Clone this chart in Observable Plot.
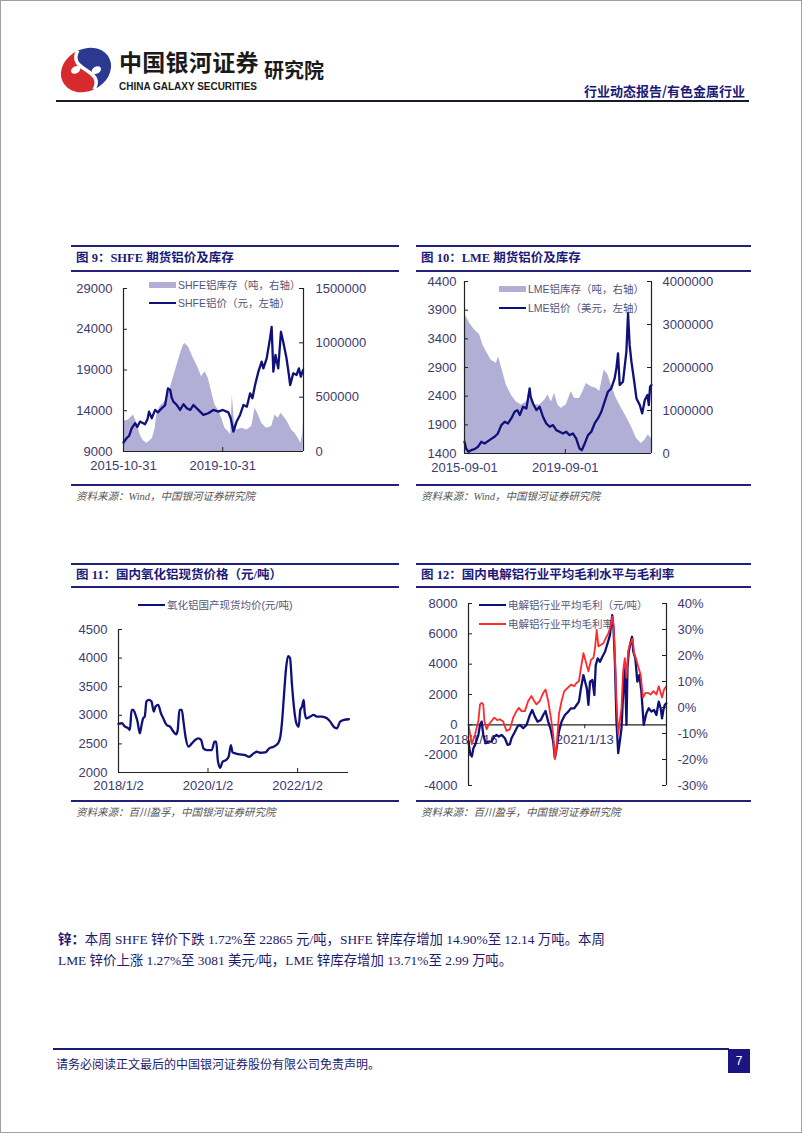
<!DOCTYPE html>
<html><head><meta charset="utf-8">
<script src="https://cdn.jsdelivr.net/npm/d3@7"></script>
<script src="https://cdn.jsdelivr.net/npm/@observablehq/plot@0.6"></script>
<style>
body{margin:0;background:#fff;}
#page{position:relative;width:802px;height:1133px;box-sizing:border-box;border:1px solid #a0a0a0;overflow:hidden;font-family:"Noto Sans CJK SC",sans-serif;background:#fff;}
.abs{position:absolute;white-space:nowrap;}
.rule{position:absolute;background:#23207a;}
.title{position:absolute;font-family:"Liberation Serif","Noto Sans CJK SC",serif;font-weight:bold;font-size:12.5px;color:#1c1a78;line-height:16px;white-space:nowrap;}
.src{position:absolute;font-family:"Liberation Serif","Noto Sans CJK SC",serif;font-style:italic;font-size:10.5px;color:#555;line-height:14px;white-space:nowrap;}
.leg{position:absolute;font-family:"Liberation Sans","Noto Sans CJK SC",sans-serif;font-size:10.5px;color:#55557a;line-height:16px;white-space:nowrap;}
.chart{position:absolute;}
.para{position:absolute;font-family:"Liberation Serif","Noto Sans CJK SC",serif;font-size:13.4px;color:#1c1a6e;line-height:18px;white-space:nowrap;}
</style></head>
<body><div id="page"></div>
<script>
// ---------- DATA ----------
const shfePrice = [["2015-10-31",10100],["2015-12-15",10630],["2016-01-20",10900],["2016-03-01",11860],["2016-04-20",12470],["2016-05-20",12000],["2016-07-01",12670],["2016-09-12",12350],["2016-10-20",13000],["2016-11-10",13900],["2016-12-20",13080],["2017-02-08",14100],["2017-03-20",13800],["2017-05-15",14300],["2017-07-05",14700],["2017-08-15",16750],["2017-09-18",16550],["2017-10-10",15600],["2017-11-03",15120],["2017-12-24",14700],["2018-02-10",14100],["2018-04-01",14800],["2018-05-20",14300],["2018-07-10",14100],["2018-08-25",14700],["2018-11-06",14100],["2019-01-20",13490],["2019-04-01",13690],["2019-06-15",14100],["2019-08-28",13900],["2019-10-31",14100],["2020-01-22",13800],["2020-02-25",13080],["2020-04-05",11450],["2020-05-22",12670],["2020-07-12",13490],["2020-08-30",14700],["2020-10-20",14500],["2020-12-07",16140],["2021-01-10",15530],["2021-02-18",17160],["2021-04-08",18800],["2021-05-26",20020],["2021-06-20",19200],["2021-08-08",20430],["2021-09-26",22880],["2021-10-20",24300],["2021-11-14",18800],["2021-12-16",20840],["2022-01-25",19200],["2022-03-06",23690],["2022-04-08",22470],["2022-05-27",20430],["2022-07-01",18390],["2022-07-20",17160],["2022-09-03",18590],["2022-10-22",18390],["2022-11-25",19200],["2022-12-24",18180],["2023-01-25",19000]];
const shfeStock = [["2015-10-31",275000],["2016-01-12",290000],["2016-03-25",337000],["2016-05-15",260000],["2016-07-01",153000],["2016-08-20",98000],["2016-10-08",77000],["2016-11-25",98000],["2016-12-31",122000],["2017-02-08",214000],["2017-03-03",337000],["2017-04-22",413000],["2017-07-05",459000],["2017-09-18",582000],["2017-11-28",735000],["2018-02-10",888000],["2018-04-01",980000],["2018-04-22",995000],["2018-06-12",964000],["2018-08-25",857000],["2018-11-06",765000],["2018-12-24",689000],["2019-02-13",735000],["2019-04-01",673000],["2019-05-20",551000],["2019-07-08",429000],["2019-08-28",383000],["2019-10-15",306000],["2019-12-03",214000],["2020-01-22",184000],["2020-02-25",153000],["2020-03-20",520000],["2020-04-20",275000],["2020-05-22",199000],["2020-08-07",214000],["2020-10-20",199000],["2021-01-01",230000],["2021-02-18",398000],["2021-04-08",337000],["2021-05-26",260000],["2021-08-08",214000],["2021-10-20",230000],["2021-12-08",337000],["2022-01-25",306000],["2022-03-06",352000],["2022-05-05",306000],["2022-06-21",260000],["2022-08-10",199000],["2022-09-27",168000],["2022-11-15",122000],["2022-12-24",77000],["2023-01-18",153000],["2023-01-28",275000]];
const lmePrice = [["2015-09-01",1604],["2015-09-24",1487],["2015-10-30",1429],["2015-12-06",1458],["2016-01-26",1476],["2016-03-14",1517],["2016-05-01",1604],["2016-06-18",1575],["2016-08-28",1633],["2016-11-10",1691],["2016-12-28",1750],["2017-02-16",1895],["2017-04-05",1953],["2017-05-23",1924],["2017-07-10",2012],["2017-08-28",2128],["2017-10-05",2157],["2017-11-10",2070],["2017-12-28",2215],["2018-02-14",2186],["2018-03-10",2361],["2018-04-02",2536],["2018-04-16",2390],["2018-05-21",2274],["2018-07-08",2157],["2018-08-25",2215],["2018-10-12",2041],["2018-11-29",1924],["2019-01-17",1866],["2019-03-06",1895],["2019-04-23",1808],["2019-06-10",1779],["2019-07-28",1750],["2019-09-14",1779],["2019-11-01",1720],["2019-12-19",1750],["2020-02-05",1662],["2020-03-24",1487],["2020-04-27",1458],["2020-06-08",1575],["2020-07-26",1720],["2020-09-12",1779],["2020-10-30",1924],["2020-12-17",2012],["2021-02-04",2128],["2021-03-24",2303],["2021-05-11",2478],["2021-06-28",2536],["2021-08-16",2711],["2021-09-10",2885],["2021-10-04",3147],["2021-10-28",2594],["2021-12-15",2652],["2022-02-02",3177],["2022-02-26",3847],["2022-03-21",3294],["2022-04-16",3002],["2022-05-27",2652],["2022-06-28",2361],["2022-08-15",2245],["2022-09-19",2099],["2022-10-27",2332],["2022-12-04",2419],["2022-12-24",2245],["2023-01-11",2565],["2023-02-01",2594]];
const lmeStock = [["2015-09-01",3260000],["2015-11-14",3030000],["2016-01-26",2870000],["2016-04-07",2760000],["2016-05-26",2520000],["2016-07-13",2370000],["2016-09-23",2170000],["2016-12-05",2100000],["2017-01-08",2250000],["2017-02-16",2020000],["2017-04-30",1590000],["2017-07-10",1360000],["2017-09-21",1200000],["2017-12-02",1130000],["2018-02-14",1200000],["2018-04-02",1280000],["2018-06-14",1130000],["2018-08-25",1130000],["2018-11-06",1240000],["2018-12-24",1360000],["2019-02-10",1200000],["2019-03-30",1400000],["2019-05-17",1130000],["2019-07-04",1050000],["2019-09-14",1130000],["2019-11-26",1440000],["2020-01-14",1280000],["2020-03-24",1280000],["2020-05-15",1440000],["2020-07-01",1630000],["2020-09-12",1550000],["2020-11-24",1510000],["2021-01-11",1440000],["2021-03-17",1940000],["2021-05-11",1830000],["2021-06-28",1590000],["2021-09-10",1280000],["2021-11-22",1050000],["2022-02-02",850000],["2022-04-16",620000],["2022-06-28",350000],["2022-09-08",230000],["2022-10-27",310000],["2022-12-14",430000],["2023-02-01",350000]];
const aluminaPrice = [["2018-01-02",2849],["2018-01-29",2861],["2018-02-24",2802],["2018-03-23",2773],["2018-04-05",2744],["2018-04-19",3095],["2018-05-02",3095],["2018-05-21",3007],["2018-06-06",2890],["2018-06-25",2685],["2018-07-09",2831],["2018-07-22",2948],["2018-08-04",2978],["2018-08-18",3241],["2018-09-06",3270],["2018-09-28",3241],["2018-10-17",3066],["2018-10-31",3153],["2018-11-22",3182],["2018-12-14",3036],["2019-01-02",2948],["2019-01-30",2831],["2019-02-26",2802],["2019-03-26",2714],["2019-04-17",2667],["2019-04-30",2744],["2019-05-14",3095],["2019-06-02",3095],["2019-06-16",2890],["2019-07-05",2597],["2019-07-27",2451],["2019-08-23",2509],["2019-09-19",2568],["2019-10-16",2597],["2019-11-07",2568],["2019-11-26",2422],["2019-12-23",2392],["2020-02-02",2392],["2020-02-24",2539],["2020-03-09",2539],["2020-03-22",2217],["2020-04-10",2082],["2020-04-30",2187],["2020-05-27",2217],["2020-06-18",2275],["2020-07-07",2480],["2020-07-20",2351],["2020-08-11",2334],["2020-09-20",2316],["2020-10-31",2304],["2020-12-03",2275],["2021-01-08",2334],["2021-02-04",2363],["2021-03-03",2345],["2021-04-13",2351],["2021-05-16",2422],["2021-06-20",2451],["2021-07-26",2509],["2021-08-14",2626],["2021-08-28",2890],["2021-09-13",3358],["2021-09-30",3827],["2021-10-16",4032],["2021-11-01",4002],["2021-11-17",3534],["2021-12-07",3066],["2021-12-23",2861],["2022-01-11",2802],["2022-01-24",3095],["2022-02-07",3153],["2022-02-21",3270],["2022-02-28",3066],["2022-03-14",2948],["2022-04-15",2978],["2022-05-12",3007],["2022-06-09",2978],["2022-07-19",2978],["2022-08-29",2948],["2022-09-25",2890],["2022-10-22",2802],["2022-11-18",2773],["2022-12-15",2890],["2023-01-15",2919],["2023-02-24",2931]];
const smelterProfit = [["2018-01-16",-1107],["2018-01-31",-1875],["2018-02-16",-2094],["2018-03-03",-1542],["2018-03-19",-1322],["2018-04-03",-993],["2018-04-19",-665],["2018-05-04",0],["2018-05-20",213],["2018-06-04",-665],["2018-06-26",-1213],["2018-07-21",-1103],["2018-08-21",-1103],["2018-09-15",-774],["2018-10-07",-665],["2018-10-28",-774],["2018-11-23",-665],["2018-12-24",-884],["2019-01-18",-1322],["2019-02-09",-1278],["2019-02-24",-884],["2019-03-21",-555],["2019-04-22",-116],["2019-05-14",0],["2019-06-14",-226],["2019-07-16",0],["2019-08-16",651],["2019-09-07",980],["2019-10-02",541],["2019-10-27",213],["2019-11-27",322],["2019-12-19",651],["2020-01-10",914],["2020-02-04",213],["2020-02-29",-336],["2020-03-22",-1103],["2020-04-07",-2200],["2020-04-23",-1542],["2020-05-15",-445],["2020-06-09",213],["2020-07-10",651],["2020-08-11",870],["2020-09-05",1090],["2020-10-06",1090],["2020-10-28",1310],["2020-11-19",1529],["2020-12-08",2406],["2020-12-31",3283],["2021-01-16",2845],["2021-02-01",2406],["2021-02-16",1310],["2021-03-03",2845],["2021-03-25",2955],["2021-04-13",1968],["2021-04-26",3941],["2021-05-14",4380],["2021-06-05",4160],["2021-06-27",4489],["2021-07-22",4818],["2021-08-15",5366],["2021-09-06",5914],["2021-09-28",7231],["2021-10-10",6353],["2021-10-23",4160],["2021-11-07",213],["2021-11-23",-1871],["2021-12-08",-1103],["2021-12-24",-226],["2022-01-08",1968],["2022-01-24",3722],["2022-02-09",0],["2022-02-18",3722],["2022-03-02",4818],["2022-03-21",5476],["2022-04-02",5805],["2022-04-14",4818],["2022-05-03",4380],["2022-05-22",2845],["2022-06-10",3283],["2022-06-29",2187],["2022-07-21",0],["2022-08-15",760],["2022-09-06",1090],["2022-10-01",870],["2022-10-26",980],["2022-11-17",651],["2022-12-09",1529],["2022-12-28",1090],["2023-01-09",432],["2023-01-22",980],["2023-02-03",1310],["2023-02-18",1420]];
const smelterMargin = [["2018-01-16",-6.5],["2018-01-31",-10.3],["2018-02-16",-14.1],["2018-03-03",-12.2],["2018-03-19",-10.3],["2018-04-03",-7.7],["2018-04-19",-5.2],["2018-05-04",1.2],["2018-05-20",1.8],["2018-06-04",1.2],["2018-06-14",-5.2],["2018-07-05",-8.4],["2018-07-27",-6.5],["2018-08-21",-5.2],["2018-09-15",-3.9],["2018-10-16",-4.9],["2018-11-06",-4.5],["2018-12-08",-5.4],["2019-01-08",-9.0],["2019-02-09",-8.4],["2019-03-12",-3.9],["2019-04-12",-1.4],["2019-05-04",-0.1],["2019-05-29",-1.4],["2019-06-30",-1.4],["2019-07-31",2.5],["2019-08-31",4.4],["2019-09-25",2.5],["2019-10-17",1.2],["2019-11-17",2.5],["2019-12-19",5.6],["2020-01-10",6.9],["2020-02-04",2.5],["2020-02-29",-3.9],["2020-03-22",-10.3],["2020-04-07",-19.8],["2020-04-23",-15.4],["2020-05-15",-2.6],["2020-06-09",2.5],["2020-07-04",6.3],["2020-08-04",7.5],["2020-09-05",8.8],["2020-10-06",8.2],["2020-10-28",9.5],["2020-11-19",10.1],["2020-12-08",15.2],["2020-12-31",20.9],["2021-01-22",17.7],["2021-02-16",13.9],["2021-03-13",18.4],["2021-04-04",19.0],["2021-04-19",22.8],["2021-05-05",29.8],["2021-05-21",23.5],["2021-06-15",24.1],["2021-07-06",24.7],["2021-07-28",26.6],["2021-08-22",28.5],["2021-09-12",31.1],["2021-09-28",34.9],["2021-10-10",31.7],["2021-10-23",20.3],["2021-11-07",2.5],["2021-11-23",-10.3],["2021-12-08",-5.2],["2021-12-24",-0.1],["2022-01-08",13.9],["2022-01-24",19.0],["2022-02-09",11.4],["2022-02-24",21.5],["2022-03-11",24.1],["2022-03-27",25.4],["2022-04-08",26.6],["2022-04-21",20.9],["2022-05-12",18.4],["2022-06-03",15.2],["2022-06-22",12.6],["2022-07-14",3.8],["2022-08-06",5.6],["2022-08-31",5.6],["2022-09-25",5.0],["2022-10-20",6.3],["2022-11-17",5.0],["2022-12-09",8.2],["2022-12-28",5.6],["2023-01-09",3.8],["2023-01-28",6.9],["2023-02-18",8.2]];

const c1LeftTicks = [9000,14000,19000,24000,29000];
const c1RightTicks = [0,500000,1000000,1500000];
const c1XTicks = ["2015-10-31","2019-10-31"];
const c2LeftTicks = [1400,1900,2400,2900,3400,3900,4400];
const c2RightTicks = [0,1000000,2000000,3000000,4000000];
const c2XTicks = ["2015-09-01","2019-09-01"];
const c3LeftTicks = [2000,2500,3000,3500,4000,4500];
const c3XTicks = ["2018-01-02","2020-01-02","2022-01-02"];
const c4LeftTicks = [-4000,-2000,0,2000,4000,6000,8000];
const c4RightTicks = [-30,-20,-10,0,10,20,30,40];
const c4XTicks = ["2018-01-16","2021-01-13"];

// ---------- HELPERS ----------
const page = document.getElementById("page");
const parse = s => new Date(s + "T00:00:00Z");
const rows = arr => arr.map(([d, v]) => ({date: parse(d), v}));
const NAVY = "#10107a", AREA = "#b2afd6", RED = "#ff2b2b", TXT = "#3c3a6e", AX = "#222";
function el(tag, cls, css, html) {
  const e = document.createElement(tag);
  if (cls) e.className = cls;
  Object.assign(e.style, css || {});
  if (html != null) e.innerHTML = html;
  page.appendChild(e);
  return e;
}
function hrule(x1, x2, y, w) { el("div", "rule", {left: x1 + "px", top: (y - w / 2) + "px", width: (x2 - x1) + "px", height: w + "px"}); }
function legend(x, y, kind, color, text) {
  const sw = kind === "area"
    ? `<span style="display:inline-block;width:27px;height:6px;background:${color};vertical-align:middle"></span>`
    : `<span style="display:inline-block;width:27px;height:2.4px;background:${color};vertical-align:middle"></span>`;
  el("div", "leg", {left: x + "px", top: (y - 8) + "px"}, sw + `<span style="margin-left:2px;vertical-align:middle">${text}</span>`);
}
function place(svg, left, top) {
  const d = el("div", "chart", {left: left + "px", top: top + "px"});
  d.appendChild(svg);
}
const baseStyle = {fontFamily: "'Liberation Sans', Arial, sans-serif", fontSize: "13px", color: TXT, background: "transparent", overflow: "visible"};
const dashFmt = d3.utcFormat("%Y-%m-%d");
const slashFmt = d => `${d.getUTCFullYear()}/${d.getUTCMonth() + 1}/${d.getUTCDate()}`;

// ---------- HEADER ----------
el("div", "abs", {left: "54px", top: "40px"}, `<svg width="62" height="58" viewBox="0 0 62 58">
  <g transform="translate(31,29) rotate(-28)">
    <path d="M2,-21 A26,21 0 0 0 -2,21 C18,8 -18,-8 2,-21 Z" fill="#d62a2e"/>
    <path d="M2,-21 A26,21 0 0 1 -2,21 C18,8 -18,-8 2,-21 Z" fill="#2b3990"/>
    <path d="M2,-21 C-18,-8 18,8 -2,21" stroke="#fff" stroke-width="3.5" fill="none"/>
    <ellipse cx="-9" cy="-5" rx="5" ry="3.5" fill="#fff"/>
    <ellipse cx="9" cy="5" rx="5" ry="3.5" fill="#fff"/>
  </g></svg>`);
el("div", "abs", {left: "118px", top: "44px", fontSize: "23px", fontWeight: "bold", color: "#1a1a1a", letterSpacing: "0.3px", lineHeight: "32px"}, "中国银河证券");
el("div", "abs", {left: "118px", top: "75px"}, `<svg width="146" height="18" style="overflow:visible"><text x="0" y="13" textLength="138" lengthAdjust="spacingAndGlyphs" font-family="'Liberation Sans Narrow','Liberation Sans',Arial" font-weight="bold" font-size="11.5" fill="#1a1a1a">CHINA GALAXY SECURITIES</text></svg>`);
el("div", "abs", {left: "263px", top: "55px", fontSize: "20px", fontWeight: "bold", color: "#1a1a1a", lineHeight: "28px"}, "研究院");
el("div", "abs", {right: "56px", top: "81px", fontSize: "13px", fontWeight: "bold", color: "#1c1a78", lineHeight: "18px"}, "行业动态报告/有色金属行业");
el("div", "rule", {left: "55px", top: "99px", width: "693px", height: "1.6px", background: "#1a1a2e"});

// ---------- PANEL FRAMES ----------
hrule(70, 398, 245, 1.6); hrule(70, 398, 270, 1.2); hrule(70, 398, 484, 1.6);
hrule(415, 750, 245, 1.6); hrule(415, 750, 270, 1.2); hrule(415, 750, 484, 1.6);
hrule(70, 398, 563, 1.6); hrule(70, 398, 586, 1.2); hrule(70, 398, 800, 1.6);
hrule(415, 750, 563, 1.6); hrule(415, 750, 586, 1.2); hrule(415, 750, 800, 1.6);
el("div", "title", {left: "75px", top: "249px"}, "图 9：SHFE 期货铝价及库存");
el("div", "title", {left: "420px", top: "249px"}, "图 10：LME 期货铝价及库存");
el("div", "title", {left: "75px", top: "566px"}, "图 11：国内氧化铝现货价格（元/吨）");
el("div", "title", {left: "420px", top: "566px"}, "图 12：国内电解铝行业平均毛利水平与毛利率");
el("div", "src", {left: "75px", top: "489px"}, "资料来源：Wind，中国银河证券研究院");
el("div", "src", {left: "420px", top: "489px"}, "资料来源：Wind，中国银河证券研究院");
el("div", "src", {left: "75px", top: "805px"}, "资料来源：百川盈孚，中国银河证券研究院");
el("div", "src", {left: "420px", top: "805px"}, "资料来源：百川盈孚，中国银河证券研究院");

// legends (under the charts)
legend(148, 283, "area", AREA, "SHFE铝库存（吨，右轴）");
legend(148, 301, "line", NAVY, "SHFE铝价（元，左轴）");
legend(498, 287, "area", AREA, "LME铝库存（吨，右轴）");
legend(498, 306, "line", NAVY, "LME铝价（美元，左轴）");
legend(137, 603, "line", NAVY, "氧化铝国产现货均价(元/吨)");
legend(478, 603, "line", NAVY, "电解铝行业平均毛利（元/吨）");
legend(478, 622, "line", RED, "电解铝行业平均毛利率");

// ---------- CHART 1 ----------
{
  const W = 330, H = 205, ML = 52, MR = 98, MT = 12, MB = 30;
  const fw = W - ML - MR, fh = H - MT - MB;
  const x0 = parse("2015-10-31"), x1 = parse("2023-02-01");
  const toL = v => 9000 + v / 75;
  place(Plot.plot({
    width: W, height: H, marginLeft: ML, marginRight: MR, marginTop: MT, marginBottom: MB,
    style: baseStyle,
    x: {type: "utc", domain: [x0, x1]},
    y: {domain: [9000, 29000]},
    marks: [
      Plot.areaY(rows(shfeStock), {x: "date", y1: () => 9000, y2: d => toL(d.v), fill: AREA}),
      Plot.lineY(rows(shfePrice), {x: "date", y: "v", stroke: NAVY, strokeWidth: 2.3}),
      Plot.ruleX([x0, x1], {stroke: AX, strokeWidth: 1.2}),
      Plot.ruleY([9000], {stroke: AX, strokeWidth: 1.2}),
      Plot.tickY(c1LeftTicks, {y: d => d, insetRight: fw - 4, stroke: AX}),
      Plot.tickY(c1RightTicks.map(toL), {y: d => d, insetLeft: fw - 4, stroke: AX}),
      Plot.tickX(c1XTicks.map(parse), {x: d => d, insetTop: fh - 4, stroke: AX}),
      Plot.axisY({anchor: "left", ticks: c1LeftTicks, tickSize: 0, tickPadding: 11, tickFormat: d => String(d), label: null}),
      Plot.axisY({anchor: "right", ticks: c1RightTicks.map(toL), tickSize: 0, tickPadding: 12, tickFormat: d => String(Math.round((d - 9000) * 75)), label: null}),
      Plot.axisX({ticks: c1XTicks.map(parse), tickSize: 0, tickPadding: 9, tickFormat: dashFmt, label: null})
    ]
  }), 70, 275);
}

// ---------- CHART 2 ----------
{
  const W = 335, H = 210, ML = 48, MR = 100, MT = 10, MB = 28;
  const fw = W - ML - MR, fh = H - MT - MB;
  const x0 = parse("2015-09-01"), x1 = parse("2023-02-01");
  const toL = v => 1400 + v * 0.00075;
  place(Plot.plot({
    width: W, height: H, marginLeft: ML, marginRight: MR, marginTop: MT, marginBottom: MB,
    style: baseStyle,
    x: {type: "utc", domain: [x0, x1]},
    y: {domain: [1400, 4400]},
    marks: [
      Plot.areaY(rows(lmeStock), {x: "date", y1: () => 1400, y2: d => toL(d.v), fill: AREA}),
      Plot.lineY(rows(lmePrice), {x: "date", y: "v", stroke: NAVY, strokeWidth: 2.3}),
      Plot.ruleX([x0, x1], {stroke: AX, strokeWidth: 1.2}),
      Plot.ruleY([1400], {stroke: AX, strokeWidth: 1.2}),
      Plot.tickY(c2LeftTicks, {y: d => d, insetRight: fw - 4, stroke: AX}),
      Plot.tickY(c2RightTicks.map(toL), {y: d => d, insetLeft: fw - 4, stroke: AX}),
      Plot.tickX(c2XTicks.map(parse), {x: d => d, insetTop: fh - 4, stroke: AX}),
      Plot.axisY({anchor: "left", ticks: c2LeftTicks, tickSize: 0, tickPadding: 8, tickFormat: d => String(d), label: null}),
      Plot.axisY({anchor: "right", ticks: c2RightTicks.map(toL), tickSize: 0, tickPadding: 11, tickFormat: d => String(Math.round((d - 1400) / 0.00075)), label: null}),
      Plot.axisX({ticks: c2XTicks.map(parse), tickSize: 0, tickPadding: 9, tickFormat: dashFmt, label: null})
    ]
  }), 415, 270);
}

// ---------- CHART 3 ----------
{
  const W = 340, H = 205, ML = 57, MR = 53, MT = 38, MB = 24;
  const fw = W - ML - MR, fh = H - MT - MB;
  const x0 = parse("2018-01-02"), x1 = parse("2023-02-21");
  place(Plot.plot({
    width: W, height: H, marginLeft: ML, marginRight: MR, marginTop: MT, marginBottom: MB,
    style: baseStyle,
    x: {type: "utc", domain: [x0, x1]},
    y: {domain: [2000, 4500]},
    marks: [
      Plot.lineY(rows(aluminaPrice), {x: "date", y: "v", stroke: NAVY, strokeWidth: 2.3, curve: "monotone-x"}),
      Plot.ruleX([x0], {stroke: AX, strokeWidth: 1.2}),
      Plot.ruleY([2000], {stroke: AX, strokeWidth: 1.2}),
      Plot.tickY(c3LeftTicks, {y: d => d, insetRight: fw - 4, stroke: AX}),
      Plot.tickX(c3XTicks.map(parse), {x: d => d, insetTop: fh - 4, stroke: AX}),
      Plot.axisY({anchor: "left", ticks: c3LeftTicks, tickSize: 0, tickPadding: 11, tickFormat: d => String(d), label: null}),
      Plot.axisX({ticks: c3XTicks.map(parse), tickSize: 0, tickPadding: 8, tickFormat: slashFmt, label: null})
    ]
  }), 60, 590);
}

// ---------- CHART 4 ----------
{
  const W = 335, H = 205, ML = 52, MR = 85, MT = 12, MB = 11;
  const fw = W - ML - MR;
  const x0 = parse("2018-01-16"), x1 = parse("2023-02-20");
  const toL = p => -4000 + (p + 30) / 70 * 12000;
  place(Plot.plot({
    width: W, height: H, marginLeft: ML, marginRight: MR, marginTop: MT, marginBottom: MB,
    style: baseStyle,
    x: {type: "utc", domain: [x0, x1], axis: null},
    y: {domain: [-4000, 8000]},
    marks: [
      Plot.text(c4XTicks.map(parse), {x: d => d, y: () => 0, text: slashFmt, dy: 15, fill: TXT, fontSize: 13}),
      Plot.ruleY([0], {stroke: AX, strokeWidth: 1.2}),
      Plot.ruleX(c4XTicks.map(parse), {x: d => d, y1: () => 0, y2: () => -260, stroke: AX}),
      Plot.lineY(rows(smelterProfit), {x: "date", y: "v", stroke: NAVY, strokeWidth: 2.3}),
      Plot.lineY(rows(smelterMargin), {x: "date", y: d => toL(d.v), stroke: RED, strokeWidth: 1.8}),
      Plot.ruleX([x0, x1], {stroke: AX, strokeWidth: 1.2}),
      Plot.tickY(c4LeftTicks, {y: d => d, insetRight: fw - 4, stroke: AX}),
      Plot.tickY(c4RightTicks.map(toL), {y: d => d, insetLeft: fw - 4, stroke: AX}),
      Plot.axisY({anchor: "left", ticks: c4LeftTicks, tickSize: 0, tickPadding: 11, tickFormat: d => String(d), label: null}),
      Plot.axisY({anchor: "right", ticks: c4RightTicks.map(toL), tickSize: 0, tickPadding: 11, tickFormat: d => Math.round((d + 4000) / 12000 * 70 - 30) + "%", label: null})
    ]
  }), 415, 590);
}

// ---------- BODY TEXT & FOOTER ----------
el("div", "para", {left: "57px", top: "930px"}, "<b>锌：</b>本周 SHFE 锌价下跌 1.72%至 22865 元/吨，SHFE 锌库存增加 14.90%至 12.14 万吨。本周");
el("div", "para", {left: "57px", top: "951px"}, "LME 锌价上涨 1.27%至 3081 美元/吨，LME 锌库存增加 13.71%至 2.99 万吨。");
el("div", "rule", {left: "52px", top: "1047px", width: "676px", height: "1.6px", background: "#1c1a78"});
el("div", "abs", {left: "55px", top: "1055px", fontSize: "12px", color: "#1c1a6e", lineHeight: "16px", fontFamily: "'Noto Sans CJK SC',serif"}, "请务必阅读正文最后的中国银河证券股份有限公司免责声明。");
el("div", "abs", {left: "727px", top: "1048px", width: "22px", height: "24px", background: "#1a1580", color: "#fff", fontSize: "12px", lineHeight: "24px", textAlign: "center", fontFamily: "'Liberation Sans',Arial"}, "7");
</script></body></html>
